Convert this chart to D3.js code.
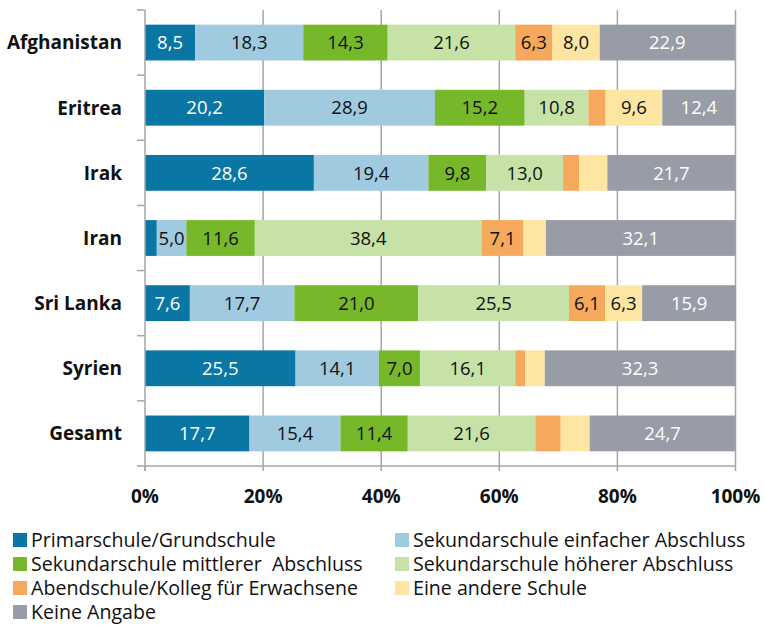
<!DOCTYPE html>
<html>
<head>
<meta charset="utf-8">
<script src="https://cdn.jsdelivr.net/npm/d3@7"></script>
<style>
  body { margin: 0; background: #fff; }
  text { font-family: "Open Sans", sans-serif; }
</style>
</head>
<body>
<div id="chart"></div>
<script>
const countries = ["Afghanistan", "Eritrea", "Irak", "Iran", "Sri Lanka", "Syrien", "Gesamt"];
const series = [
  "Primarschule/Grundschule",
  "Sekundarschule einfacher Abschluss",
  "Sekundarschule mittlerer  Abschluss",
  "Sekundarschule höherer Abschluss",
  "Abendschule/Kolleg für Erwachsene",
  "Eine andere Schule",
  "Keine Angabe"
];
const primar = [8.5, 20.2, 28.6, 2.0, 7.6, 25.5, 17.7];
const einfach = [18.3, 28.9, 19.4, 5.0, 17.7, 14.1, 15.4];
const mittel = [14.3, 15.2, 9.8, 11.6, 21.0, 7.0, 11.4];
const hoeher = [21.6, 10.8, 13.0, 38.4, 25.5, 16.1, 21.6];
const abend = [6.3, 2.9, 2.7, 7.1, 6.1, 1.7, 4.3];
const andere = [8.0, 9.6, 4.8, 3.8, 6.3, 3.3, 4.9];
const keine = [22.9, 12.4, 21.7, 32.1, 15.9, 32.3, 24.7];
const values = [primar, einfach, mittel, hoeher, abend, andere, keine];
// segments that carry no printed label
const hidden = [[], [4], [4, 5], [0, 5], [], [4, 5], [4, 5]];
const xTicks = [0, 20, 40, 60, 80, 100];

const colors = ["#0a76a4", "#9fcae0", "#76b82a", "#c6e2a6", "#f6a95c", "#fee5a2", "#979ca6"];
const labelColors = ["#fff", "#111", "#111", "#111", "#111", "#111", "#fff"];

const W = 765, H = 626;
const svg = d3.select("#chart").append("svg").attr("width", W).attr("height", H);

const x = d3.scaleLinear().domain([0, 100]).range([145, 735.5]);
const y = d3.scaleBand().domain(countries).range([10, 466]).paddingInner(0.45).paddingOuter(0.225);

// gridlines
svg.append("g").selectAll("line").data(xTicks.slice(1)).join("line")
  .attr("x1", d => x(d)).attr("x2", d => x(d))
  .attr("y1", 10).attr("y2", 471)
  .attr("stroke", "#a6a6a6").attr("stroke-width", 1.5);

// stacked data
const rows = countries.map((c, i) => {
  let acc = 0;
  return values.map((s, k) => {
    const seg = { country: c, k, v: s[i], x0: acc, x1: acc + s[i], show: !hidden[i].includes(k) };
    acc += s[i];
    return seg;
  });
}).flat();

const fmt = v => v.toFixed(1).replace(".", ",");

svg.append("g").selectAll("rect").data(rows).join("rect")
  .attr("x", d => x(d.x0)).attr("width", d => x(d.x1) - x(d.x0))
  .attr("y", d => y(d.country)).attr("height", y.bandwidth())
  .attr("fill", d => colors[d.k]);

svg.append("g").selectAll("text").data(rows.filter(d => d.show)).join("text")
  .attr("x", d => (x(d.x0) + x(d.x1)) / 2)
  .attr("y", d => y(d.country) + y.bandwidth() / 2)
  .attr("dy", "0.36em")
  .attr("text-anchor", "middle")
  .attr("font-size", 18.5)
  .attr("fill", d => labelColors[d.k])
  .text(d => fmt(d.v));

// y axis
const yAxis = svg.append("g");
yAxis.append("line").attr("x1", 145).attr("x2", 145).attr("y1", 10).attr("y2", 471)
  .attr("stroke", "#a6a6a6").attr("stroke-width", 1.5);
const bounds = countries.map(c => y(c) - y.step() * y.paddingInner() / 2).concat([466]);
yAxis.selectAll("line.t").data(bounds).join("line").attr("class", "t")
  .attr("x1", 137).attr("x2", 145).attr("y1", d => d).attr("y2", d => d)
  .attr("stroke", "#a6a6a6").attr("stroke-width", 1.5);
yAxis.selectAll("text").data(countries).join("text")
  .attr("x", 122).attr("y", d => y(d) + y.bandwidth() / 2).attr("dy", "0.36em")
  .attr("text-anchor", "end").attr("font-weight", "bold").attr("font-size", 19)
  .attr("fill", "#111").text(d => d);

// x axis
svg.append("line").attr("x1", 145).attr("x2", 735.5).attr("y1", 466).attr("y2", 466)
  .attr("stroke", "#a6a6a6").attr("stroke-width", 1.5);
svg.append("line").attr("x1", 145).attr("x2", 145).attr("y1", 466).attr("y2", 471)
  .attr("stroke", "#a6a6a6").attr("stroke-width", 1.5);
svg.append("g").selectAll("text").data(xTicks).join("text")
  .attr("x", d => x(d)).attr("y", 503).attr("text-anchor", "middle")
  .attr("font-weight", "bold").attr("font-size", 19).attr("fill", "#111")
  .text(d => d + "%");

// legend
const legendPos = [[13, 540], [395, 540], [13, 564], [395, 564], [13, 588], [395, 588], [13, 612]];
const lg = svg.append("g").selectAll("g").data(series).join("g")
  .attr("transform", (d, i) => `translate(${legendPos[i][0]},${legendPos[i][1]})`);
lg.append("rect").attr("x", 0).attr("y", -7).attr("width", 14).attr("height", 14)
  .attr("fill", (d, i) => colors[i]);
lg.append("text").attr("x", 18).attr("dy", "0.36em").attr("font-size", 19.6).attr("fill", "#111")
  .attr("xml:space", "preserve").style("white-space", "pre").text(d => d);
</script>
</body>
</html>
